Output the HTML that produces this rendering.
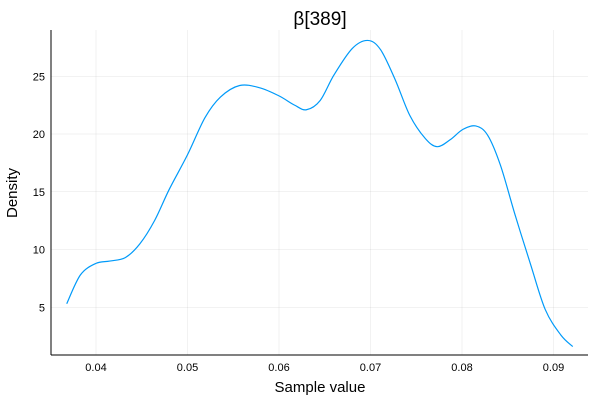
<!DOCTYPE html>
<html><head><meta charset="utf-8"><style>
body{margin:0;background:#fff}
svg text{font-family:"Liberation Sans",sans-serif;fill:#000}
</style></head><body>
<svg id="chart" width="600" height="400" viewBox="0 0 600 400" xmlns="http://www.w3.org/2000/svg">
<rect width="600" height="400" fill="#fff"/>
<g id="grid"></g>
<g id="axes"></g>
<path id="curve" fill="none" stroke="#009af9" stroke-width="1.2"/>
<text x="320" y="25" font-size="19" text-anchor="middle">β[389]</text>
<text x="320" y="392" font-size="15" text-anchor="middle">Sample value</text>
<text x="0" y="0" font-size="15" text-anchor="middle" transform="translate(17,193) rotate(-90)">Density</text>
</svg>
<script>
const xVals=[0.0368,0.0383,0.040,0.0415,0.0432,0.0448,0.0464,0.048,0.050,0.0519,0.0536,0.0557,0.0579,0.060,0.0617,0.063,0.0645,0.066,0.068,0.0697,0.0711,0.0727,0.0743,0.076,0.0773,0.0787,0.0801,0.0815,0.0828,0.0842,0.0858,0.0875,0.0891,0.0908,0.0921];
const density=[5.3,7.8,8.8,9.0,9.3,10.5,12.5,15.2,18.2,21.4,23.2,24.2,24.0,23.3,22.5,22.1,22.9,25.1,27.4,28.1,27.3,24.7,21.6,19.6,18.9,19.5,20.4,20.7,19.9,17.3,13.0,8.7,4.8,2.6,1.6];
const xTicks=[0.04,0.05,0.06,0.07,0.08,0.09];
const yTicks=[5,10,15,20,25];
const xs=v=>96+(v-0.04)*9150;
const ys=v=>365-v*11.55;
const NS="http://www.w3.org/2000/svg";
const grid=document.getElementById('grid'),axes=document.getElementById('axes');
function mk(tag,attrs,parent){const e=document.createElementNS(NS,tag);for(const k in attrs)e.setAttribute(k,attrs[k]);parent.appendChild(e);return e;}
xTicks.forEach(t=>{
 const l=mk('line',{x1:xs(t),x2:xs(t),y1:30,y2:355,stroke:'#000','stroke-opacity':0.1,'stroke-width':0.5},grid);
 
 
 const tx=mk('text',{x:xs(t),y:371,'font-size':11,'text-anchor':'middle'},axes);
 tx.textContent=t.toFixed(2);
 
 
});
yTicks.forEach(t=>{
 const l=mk('line',{x1:51,x2:588,y1:ys(t),y2:ys(t),stroke:'#000','stroke-opacity':0.1,'stroke-width':0.5},grid);
 
 
 const tx=mk('text',{x:45,y:ys(t)+4,'font-size':11,'text-anchor':'end'},axes);
 tx.textContent=t;
 
 
});
const ya=mk('line',{x1:51,x2:51,y1:30,y2:355,stroke:'#000','stroke-width':1},axes);


const xa=mk('line',{x1:51,x2:588,y1:355,y2:355,stroke:'#000','stroke-width':1},axes);


const P=xVals.map((v,i)=>[xs(v),ys(density[i])]);
let d='M'+P[0][0]+','+P[0][1];
for(let i=0;i<P.length-1;i++){
 const p0=P[Math.max(0,i-1)],p1=P[i],p2=P[i+1],p3=P[Math.min(P.length-1,i+2)];
 const c1=[p1[0]+(p2[0]-p0[0])/6,p1[1]+(p2[1]-p0[1])/6];
 const c2=[p2[0]-(p3[0]-p1[0])/6,p2[1]-(p3[1]-p1[1])/6];
 d+=` C${c1[0]},${c1[1]} ${c2[0]},${c2[1]} ${p2[0]},${p2[1]}`;
}
document.getElementById('curve').setAttribute('d',d);
</script>
</body></html>
